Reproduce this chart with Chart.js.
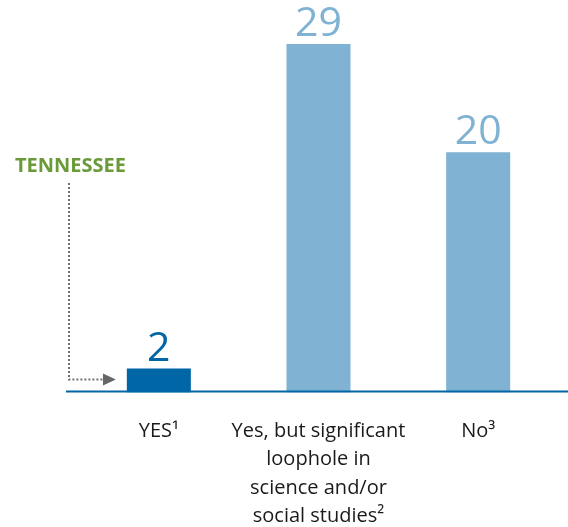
<!DOCTYPE html>
<html>
<head>
<meta charset="utf-8">
<script src="https://cdn.jsdelivr.net/npm/chart.js@4/dist/chart.umd.min.js"></script>
<style>
  html, body { margin: 0; padding: 0; background: #fff; }
  #wrap { position: relative; width: 568px; height: 527px; }
</style>
</head>
<body>
<div id="wrap"><canvas id="chart"></canvas></div>
<script>
const categories = [
    ['YES\u00b9'],
    ['Yes, but significant', 'loophole in', 'science and/or', 'social studies\u00b2'],
    ['No\u00b3']
];
const counts = [2, 29, 20];
const highlightLabel = 'TENNESSEE';

const darkBlue = '#0066a5';
const lightBlue = '#7fb2d3';
const barColors = [darkBlue, lightBlue, lightBlue];

// value numbers above bars + baseline + Tennessee pointer
const extras = {
    id: 'extras',
    afterDatasetsDraw(chart) {
        const ctx = chart.ctx;
        const area = chart.chartArea;
        const bars = chart.getDatasetMeta(0).data;

        ctx.save();
        ctx.font = '41px "Open Sans"';
        ctx.textAlign = 'center';
        ctx.textBaseline = 'alphabetic';
        bars.forEach((bar, i) => {
            ctx.fillStyle = barColors[i];
            ctx.fillText(String(counts[i]), bar.x, bar.y - 8);
        });

        // baseline
        ctx.strokeStyle = darkBlue;
        ctx.lineWidth = 2;
        ctx.beginPath();
        ctx.moveTo(66, area.bottom - 1);
        ctx.lineTo(chart.width, area.bottom - 1);
        ctx.stroke();

        // Tennessee label and dotted arrow to first bar
        ctx.fillStyle = '#6b9a3b';
        ctx.font = 'bold 20px "Open Sans"';
        ctx.textAlign = 'left';
        ctx.fillText(highlightLabel, 15, 172);

        const first = bars[0];
        const arrowY = area.bottom - 13;
        ctx.strokeStyle = '#707070';
        ctx.lineWidth = 2;
        ctx.setLineDash([2, 2]);
        ctx.beginPath();
        ctx.moveTo(69, 183);
        ctx.lineTo(69, arrowY);
        ctx.lineTo(103, arrowY);
        ctx.stroke();
        ctx.setLineDash([]);
        ctx.fillStyle = '#666';
        ctx.beginPath();
        ctx.moveTo(103, arrowY - 6);
        ctx.lineTo(first.x - first.width / 2 - 11, arrowY);
        ctx.lineTo(103, arrowY + 6);
        ctx.closePath();
        ctx.fill();
        ctx.restore();
    }
};

new Chart(document.getElementById('chart'), {
    type: 'bar',
    data: {
        labels: categories,
        datasets: [{
            data: counts,
            backgroundColor: barColors,
            borderWidth: 0,
            barPercentage: 1,
            categoryPercentage: 0.401
        }]
    },
    options: {
        responsive: true,
        maintainAspectRatio: false,
        animation: false,
        layout: { padding: { left: 79, right: 10, top: 8, bottom: -28 } },
        plugins: {
            legend: { display: false },
            tooltip: { enabled: false }
        },
        scales: {
            x: {
                grid: { display: false, drawTicks: false },
                border: { display: false },
                ticks: {
                    color: '#1a1a1a',
                    font: { family: 'Open Sans', size: 20, lineHeight: 1.43 },
                    padding: 24,
                    maxRotation: 0,
                    autoSkip: false
                }
            },
            y: {
                display: false,
                min: 0,
                max: 32
            }
        }
    },
    plugins: [extras]
});
</script>
</body>
</html>
